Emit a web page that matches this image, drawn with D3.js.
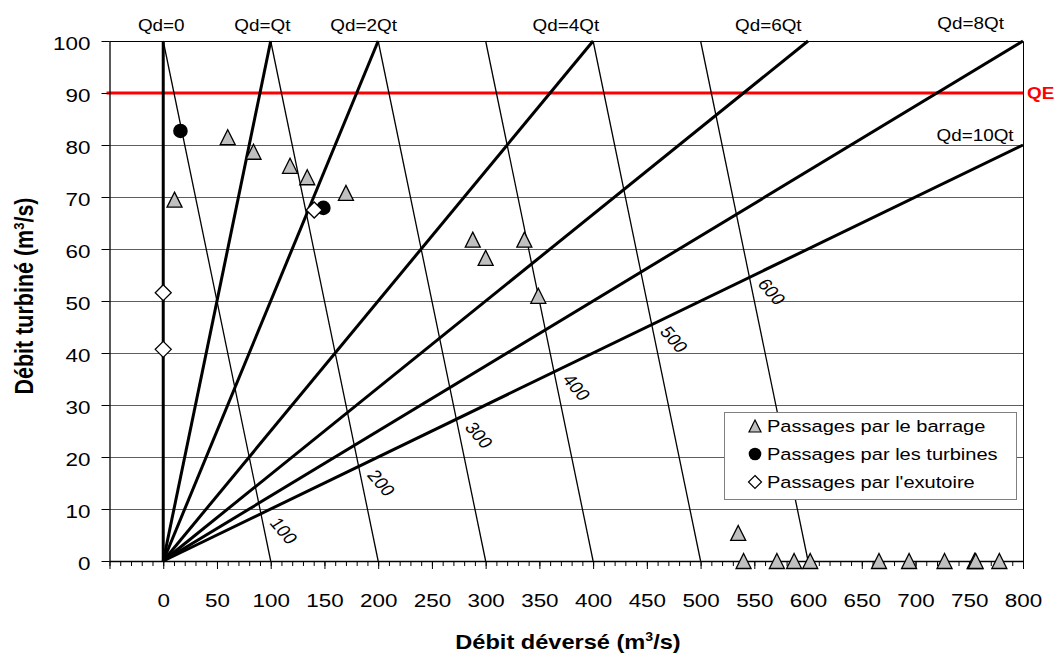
<!DOCTYPE html>
<html>
<head>
<meta charset="utf-8">
<script src="https://cdn.jsdelivr.net/npm/d3@7"></script>
<style>
  body { margin: 0; background: #fff; }
  text { font-family: Arial, "Liberation Sans", sans-serif; }
</style>
</head>
<body>
<div id="chart"></div>
<script>
//Passages through the dam (gray triangles).
const barrageQd = [10.5, 60, 84, 118, 134, 170, 288, 336, 300, 349, 535, 540, 571, 587, 602, 666, 694, 727, 755, 756, 778];
const barrageQt = [69.5, 81.5, 78.7, 76, 73.8, 70.8, 61.8, 61.8, 58.3, 51, 5.4, 0, 0, 0, 0, 0, 0, 0, 0, 0, 0];

//Passages through the turbines (black dots).
const turbinesQd = [16, 149];
const turbinesQt = [82.7, 67.9];

//Passages through the outlet (white diamonds).
const exutoireQd = [0, 0, 140.5];
const exutoireQt = [51.6, 40.7, 67.5];

//Qd = k * Qt reference lines and their labels.
const ratios = [0, 1, 2, 4, 6, 8, 10];
const ratioLabels = ["Qd=0", "Qd=Qt", "Qd=2Qt", "Qd=4Qt", "Qd=6Qt", "Qd=8Qt", "Qd=10Qt"];

//Total flow lines (Qd + Qt = const).
const isoTotals = [100, 200, 300, 400, 500, 600];

//QE level and axis ticks.
const qeValue = 90;
const xTickValues = [0, 50, 100, 150, 200, 250, 300, 350, 400, 450, 500, 550, 600, 650, 700, 750, 800];
const yTickValues = [0, 10, 20, 30, 40, 50, 60, 70, 80, 90, 100];

const width = 1056;
const height = 655;
const SX = 1.18; // the original picture is stretched horizontally

const svg = d3.select("#chart")
  .append("svg")
  .attr("width", width)
  .attr("height", height);

const x = d3.scaleLinear().domain([-50, 800]).range([109.5, 1023]);
const y = d3.scaleLinear().domain([0, 100]).range([561, 41]);

//Horizontal gridlines.
svg.append("g")
  .selectAll("line")
  .data(yTickValues.filter(v => v > 0 && v < 100))
  .join("line")
  .attr("x1", x(-50)).attr("x2", x(800))
  .attr("y1", d => Math.round(y(d)) + 0.5).attr("y2", d => Math.round(y(d)) + 0.5)
  .attr("stroke", "#5e5e5e")
  .attr("stroke-width", 1);

//Top and right borders.
svg.append("path")
  .attr("d", `M${x(-50)},${Math.round(y(100)) + 0.5}H${Math.round(x(800)) + 0.5}V${y(0)}`)
  .attr("fill", "none")
  .attr("stroke", "#000")
  .attr("stroke-width", 1);

//QE red line.
svg.append("line")
  .attr("x1", x(-50) - 3).attr("x2", x(800))
  .attr("y1", y(qeValue)).attr("y2", y(qeValue))
  .attr("stroke", "#ff0000")
  .attr("stroke-width", 3);

svg.append("text")
  .attr("transform", `translate(${x(800) + 4},${y(qeValue) + 6}) scale(${SX},1)`)
  .attr("fill", "#ff0000")
  .attr("font-weight", "bold")
  .attr("font-size", 16)
  .text("QE");

//Total flow lines.
svg.append("g")
  .selectAll("line")
  .data(isoTotals)
  .join("line")
  .attr("x1", d => x(d - 100)).attr("y1", y(100))
  .attr("x2", d => x(d)).attr("y2", y(0))
  .attr("stroke", "#000")
  .attr("stroke-width", 1.3);

//Labels along the total flow lines.
svg.append("g")
  .selectAll("text")
  .data(isoTotals)
  .join("text")
  .attr("transform", d => {
    const ly = d / 100 * 9.2 - 3.4;
    const lx = d - ly + 18;
    return `translate(${x(lx)},${y(ly)}) scale(${SX},1) rotate(54)`;
  })
  .attr("text-anchor", "middle")
  .attr("dy", "0.35em")
  .attr("font-size", 16.5)
  .text(d => d);

//Qd = k Qt lines.
const ratioEnd = k => k === 0 ? [0, 100] : (k * 100 <= 800 ? [k * 100, 100] : [800, 800 / k]);

svg.append("g")
  .selectAll("line")
  .data(ratios)
  .join("line")
  .attr("x1", x(0)).attr("y1", y(0))
  .attr("x2", k => x(ratioEnd(k)[0])).attr("y2", k => y(ratioEnd(k)[1]))
  .attr("stroke", "#000")
  .attr("stroke-width", 3);

//Labels of the Qd = k Qt lines.
ratios.forEach((k, i) => {
  const [ex, ey] = ratioEnd(k);
  if (ey < 100) {
    const cx = x(ex) - 48, cy = y(ey) - 10;
    svg.append("rect")
      .attr("x", cx - 40).attr("y", cy - 9)
      .attr("width", 80).attr("height", 19)
      .attr("fill", "#fff");
    svg.append("text")
      .attr("transform", `translate(${cx},${cy + 6}) scale(${SX},1)`)
      .attr("text-anchor", "middle")
      .attr("font-size", 16)
      .text(ratioLabels[i]);
  } else {
    svg.append("text")
      .attr("transform", `translate(${x(ex) - 2 - 6.3 * k},${k === 8 ? 29 : 31}) scale(${SX},1)`)
      .attr("text-anchor", "middle")
      .attr("font-size", 16)
      .text(ratioLabels[i]);
  }
});

//X axis with minor ticks every 10.
const xAxis = svg.append("g")
  .attr("transform", `translate(0,${y(0)})`);

xAxis.append("g")
  .call(d3.axisBottom(x).tickValues(d3.range(-50, 801, 10)).tickSize(5).tickSizeOuter(0).tickFormat(""))
  .call(g => g.select(".domain").remove());

xAxis.append("g")
  .call(d3.axisBottom(x).tickValues([-50].concat(xTickValues)).tickSize(8).tickSizeOuter(0))
  .call(g => g.selectAll("text")
    .attr("x", 0).attr("y", 0).attr("dy", 0)
    .attr("transform", `translate(0,46) scale(${SX},1)`)
    .attr("font-size", 19)
    .attr("fill", "#000")
    .text(d => d < 0 ? "" : d))
  .call(g => g.select(".domain").attr("stroke-width", 1.3));

//Y axis.
svg.append("g")
  .attr("transform", `translate(${x(-50)},0)`)
  .call(d3.axisLeft(y).tickValues(yTickValues).tickSize(8).tickSizeOuter(0))
  .call(g => g.selectAll("text")
    .attr("x", 0).attr("y", 0).attr("dy", 0)
    .attr("transform", `translate(-19,8) scale(${SX},1)`)
    .attr("font-size", 19)
    .attr("fill", "#000"))
  .call(g => g.select(".domain").attr("stroke-width", 1.3));

//Marker shapes.
const triPath = s => `M0,${-s}L${s},${s}L${-s},${s}Z`;
const diaPath = s => `M0,${-s}L${s},0L0,${s}L${-s},0Z`;

//Barrage passages.
svg.append("g")
  .selectAll("path")
  .data(barrageQd.map((d, i) => [d, barrageQt[i]]))
  .join("path")
  .attr("transform", d => `translate(${x(d[0])},${y(d[1])})`)
  .attr("d", triPath(7.5))
  .attr("fill", "#c0c0c0")
  .attr("stroke", "#000")
  .attr("stroke-width", 1.3);

//Turbine passages.
svg.append("g")
  .selectAll("circle")
  .data(turbinesQd.map((d, i) => [d, turbinesQt[i]]))
  .join("circle")
  .attr("cx", d => x(d[0]))
  .attr("cy", d => y(d[1]))
  .attr("r", 7.3)
  .attr("fill", "#000");

//Outlet passages.
svg.append("g")
  .selectAll("path")
  .data(exutoireQd.map((d, i) => [d, exutoireQt[i]]))
  .join("path")
  .attr("transform", d => `translate(${x(d[0])},${y(d[1])})`)
  .attr("d", diaPath(8))
  .attr("fill", "#fff")
  .attr("stroke", "#000")
  .attr("stroke-width", 1.3);

//Legend.
const legend = svg.append("g").attr("transform", "translate(724,412)");
legend.append("rect")
  .attr("x", 0.5).attr("y", 0.5)
  .attr("width", 292).attr("height", 87)
  .attr("fill", "#fff")
  .attr("stroke", "#808080");

const legendItems = ["Passages par le barrage", "Passages par les turbines", "Passages par l'exutoire"];
legendItems.forEach((label, i) => {
  const row = legend.append("g").attr("transform", `translate(31,${14 + i * 28})`);
  if (i === 0) {
    row.append("path").attr("d", triPath(6)).attr("fill", "#c0c0c0").attr("stroke", "#000").attr("stroke-width", 1.2);
  } else if (i === 1) {
    row.append("circle").attr("r", 6.3).attr("fill", "#000");
  } else {
    row.append("path").attr("d", diaPath(6.5)).attr("fill", "#fff").attr("stroke", "#000").attr("stroke-width", 1.2);
  }
  row.append("text")
    .attr("transform", `translate(12,6) scale(${SX},1)`)
    .attr("font-size", 17)
    .text(label);
});

//Axis titles.
const xTitle = svg.append("text")
  .attr("transform", `translate(568,649) scale(${SX},1)`)
  .attr("text-anchor", "middle")
  .attr("font-weight", "bold")
  .attr("font-size", 20);
xTitle.append("tspan").text("Débit déversé (m");
xTitle.append("tspan").attr("dy", -8).attr("font-size", 12).text("3");
xTitle.append("tspan").attr("dy", 8).text("/s)");

const yTitle = svg.append("text")
  .attr("transform", `translate(33,296) scale(${SX},1) rotate(-90)`)
  .attr("text-anchor", "middle")
  .attr("font-weight", "bold")
  .attr("font-size", 21.5);
yTitle.append("tspan").text("Débit turbiné (m");
yTitle.append("tspan").attr("dy", -8).attr("font-size", 13).text("3");
yTitle.append("tspan").attr("dy", 8).text("/s)");
</script>
</body>
</html>
